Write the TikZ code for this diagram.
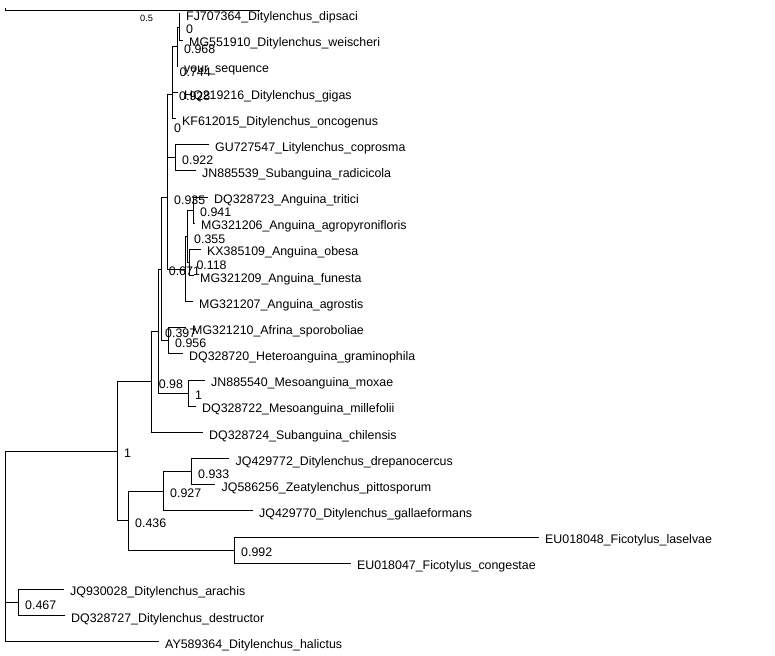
\documentclass[tikz,border=0pt]{standalone}
\usepackage{fontspec}
\setmainfont{Liberation Sans}
\usepackage{tikz}
\usetikzlibrary{calc}

\begin{document}
\begin{tikzpicture}[x=1pt,y=-1pt,
  branch/.style={line width=1pt,line cap=rect},
  tiplabel/.style={anchor=base west,inner sep=0pt,font=\fontsize{12.4}{14}\selectfont},
  support/.style={anchor=base west,inner sep=0pt,font=\fontsize{12.4}{14}\selectfont}]

\useasboundingbox (0,0) rectangle (775,655);

% Scale bar
\coordinate (sbtick) at (5,8.5);
\coordinate (sba) at (5,11);
\coordinate (sbb) at (259,11);
\draw[branch] (sbtick) -- (sba) -- (sbb);
\node (sblabel) at (140,21.5) [anchor=base west,inner sep=0pt,font=\fontsize{9.2}{11}\selectfont] {0.5};

% Internal nodes
\coordinate (nA) at (179,27.1);
\coordinate (nB) at (177,46.7);
\coordinate (nC) at (172.5,69.6);
\coordinate (nD) at (172,94.1);
\coordinate (nF) at (175,157.8);
\coordinate (nE) at (167,126);
\coordinate (nI) at (193,210.1);
\coordinate (nJ) at (189.3,262.4);
\coordinate (nH) at (187,236.3);
\coordinate (nG) at (185.5,269);
\coordinate (nK) at (167,197.5);
\coordinate (nL) at (168,340.9);
\coordinate (nM) at (161.7,269.2);
\coordinate (nN) at (188,393.2);
\coordinate (nO) at (158,331.2);
\coordinate (nP) at (151.7,381.8);
\coordinate (nQ) at (191,471.6);
\coordinate (nR) at (163,491.2);
\coordinate (nS) at (234,550.1);
\coordinate (nT) at (128,520.7);
\coordinate (nU) at (117,451.2);
\coordinate (nV) at (18,602.4);
\coordinate (root) at (5,546.4);

% Tip ends
\coordinate (t1) at (179,14);
\coordinate (t2) at (182,40.15);
\coordinate (t3) at (177,66.3);
\coordinate (t4) at (177,92.45);
\coordinate (t5) at (175,118.6);
\coordinate (t6) at (208,144.75);
\coordinate (t7) at (195,170.9);
\coordinate (t8) at (207,197.05);
\coordinate (t9) at (194,223.2);
\coordinate (t10) at (200,249.35);
\coordinate (t11) at (193,275.5);
\coordinate (t12) at (192,301.65);
\coordinate (t13) at (185,327.8);
\coordinate (t14) at (182,353.95);
\coordinate (t15) at (204,380.1);
\coordinate (t16) at (195,406.25);
\coordinate (t17) at (202,432.4);
\coordinate (t18) at (228.5,458.55);
\coordinate (t19) at (214.5,484.7);
\coordinate (t20) at (252,510.85);
\coordinate (t21) at (538,537);
\coordinate (t22) at (350,563.15);
\coordinate (t23) at (63,589.3);
\coordinate (t24) at (64,615.45);
\coordinate (t25) at (158,641.6);

% Branches
\draw[branch] (t1) -| (nA);
\draw[branch] (t2) -| (nA);
\draw[branch] (nA) -| (nB);
\draw[branch] (t3) -| (nB);
\draw[branch] (nB) -| (nC);
\draw[branch] (t4) -| (nC);
\draw[branch] (nC) -| (nD);
\draw[branch] (t5) -| (nD);
\draw[branch] (t6) -| (nF);
\draw[branch] (t7) -| (nF);
\draw[branch] (nD) -| (nE);
\draw[branch] (nF) -| (nE);
\draw[branch] (t8) -| (nI);
\draw[branch] (t9) -| (nI);
\draw[branch] (t10) -| (nJ);
\draw[branch] (t11) -| (nJ);
\draw[branch] (nI) -| (nH);
\draw[branch] (nJ) -| (nH);
\draw[branch] (nH) -| (nG);
\draw[branch] (t12) -| (nG);
\draw[branch] (nE) -| (nK);
\draw[branch] (nG) -| (nK);
\draw[branch] (t13) -| (nL);
\draw[branch] (t14) -| (nL);
\draw[branch] (nK) -| (nM);
\draw[branch] (nL) -| (nM);
\draw[branch] (t15) -| (nN);
\draw[branch] (t16) -| (nN);
\draw[branch] (nM) -| (nO);
\draw[branch] (nN) -| (nO);
\draw[branch] (nO) -| (nP);
\draw[branch] (t17) -| (nP);
\draw[branch] (t18) -| (nQ);
\draw[branch] (t19) -| (nQ);
\draw[branch] (nQ) -| (nR);
\draw[branch] (t20) -| (nR);
\draw[branch] (t21) -| (nS);
\draw[branch] (t22) -| (nS);
\draw[branch] (nR) -| (nT);
\draw[branch] (nS) -| (nT);
\draw[branch] (nP) -| (nU);
\draw[branch] (nT) -| (nU);
\draw[branch] (t23) -| (nV);
\draw[branch] (t24) -| (nV);
\draw[branch] (nU) -| (root);
\draw[branch] (nV) -| (root);
\draw[branch] (t25) -| (root);

% Tip labels
\node[tiplabel] (l1) at ($(t1)+(7,6.6)$) {FJ707364\_Ditylenchus\_dipsaci};
\node[tiplabel] (l2) at ($(t2)+(7,6.6)$) {MG551910\_Ditylenchus\_weischeri};
\node[tiplabel] (l3) at ($(t3)+(7,6.6)$) {your\_sequence};
\node[tiplabel] (l4) at ($(t4)+(7,6.6)$) {HQ219216\_Ditylenchus\_gigas};
\node[tiplabel] (l5) at ($(t5)+(7,6.6)$) {KF612015\_Ditylenchus\_oncogenus};
\node[tiplabel] (l6) at ($(t6)+(7,6.6)$) {GU727547\_Litylenchus\_coprosma};
\node[tiplabel] (l7) at ($(t7)+(7,6.6)$) {JN885539\_Subanguina\_radicicola};
\node[tiplabel] (l8) at ($(t8)+(7,6.6)$) {DQ328723\_Anguina\_tritici};
\node[tiplabel] (l9) at ($(t9)+(7,6.6)$) {MG321206\_Anguina\_agropyronifloris};
\node[tiplabel] (l10) at ($(t10)+(7,6.6)$) {KX385109\_Anguina\_obesa};
\node[tiplabel] (l11) at ($(t11)+(7,6.6)$) {MG321209\_Anguina\_funesta};
\node[tiplabel] (l12) at ($(t12)+(7,6.6)$) {MG321207\_Anguina\_agrostis};
\node[tiplabel] (l13) at ($(t13)+(7,6.6)$) {MG321210\_Afrina\_sporoboliae};
\node[tiplabel] (l14) at ($(t14)+(7,6.6)$) {DQ328720\_Heteroanguina\_graminophila};
\node[tiplabel] (l15) at ($(t15)+(7,6.6)$) {JN885540\_Mesoanguina\_moxae};
\node[tiplabel] (l16) at ($(t16)+(7,6.6)$) {DQ328722\_Mesoanguina\_millefolii};
\node[tiplabel] (l17) at ($(t17)+(7,6.6)$) {DQ328724\_Subanguina\_chilensis};
\node[tiplabel] (l18) at ($(t18)+(7,6.6)$) {JQ429772\_Ditylenchus\_drepanocercus};
\node[tiplabel] (l19) at ($(t19)+(7,6.6)$) {JQ586256\_Zeatylenchus\_pittosporum};
\node[tiplabel] (l20) at ($(t20)+(7,6.6)$) {JQ429770\_Ditylenchus\_gallaeformans};
\node[tiplabel] (l21) at ($(t21)+(7,6.6)$) {EU018048\_Ficotylus\_laselvae};
\node[tiplabel] (l22) at ($(t22)+(7,6.6)$) {EU018047\_Ficotylus\_congestae};
\node[tiplabel] (l23) at ($(t23)+(7,6.6)$) {JQ930028\_Ditylenchus\_arachis};
\node[tiplabel] (l24) at ($(t24)+(7,6.6)$) {DQ328727\_Ditylenchus\_destructor};
\node[tiplabel] (l25) at ($(t25)+(7,6.6)$) {AY589364\_Ditylenchus\_halictus};

% Support values
\node[support] (sA) at ($(nA)+(7,6.7)$) {0};
\node[support] (sB) at ($(nB)+(7,6.7)$) {0.968};
\node[support] (sC) at ($(nC)+(7,6.7)$) {0.744};
\node[support] (sD) at ($(nD)+(7,6.7)$) {0.928};
\node[support] (sE) at ($(nE)+(7,6.7)$) {0};
\node[support] (sF) at ($(nF)+(7,6.7)$) {0.922};
\node[support] (sK) at ($(nK)+(7,6.7)$) {0.935};
\node[support] (sI) at ($(nI)+(7,6.7)$) {0.941};
\node[support] (sH) at ($(nH)+(7,6.7)$) {0.355};
\node[support] (sJ) at ($(nJ)+(7,6.7)$) {0.118};
\node[support] (sM) at ($(nM)+(7,6.7)$) {0.671};
\node[support] (sO) at ($(nO)+(7,6.7)$) {0.397};
\node[support] (sL) at ($(nL)+(7,6.7)$) {0.956};
\node[support] (sP) at ($(nP)+(7,6.7)$) {0.98};
\node[support] (sN) at ($(nN)+(7,6.7)$) {1};
\node[support] (sU) at ($(nU)+(7,6.7)$) {1};
\node[support] (sQ) at ($(nQ)+(7,6.7)$) {0.933};
\node[support] (sR) at ($(nR)+(7,6.7)$) {0.927};
\node[support] (sT) at ($(nT)+(7,6.7)$) {0.436};
\node[support] (sS) at ($(nS)+(7,6.7)$) {0.992};
\node[support] (sV) at ($(nV)+(7,6.7)$) {0.467};

\end{tikzpicture}
\end{document}
